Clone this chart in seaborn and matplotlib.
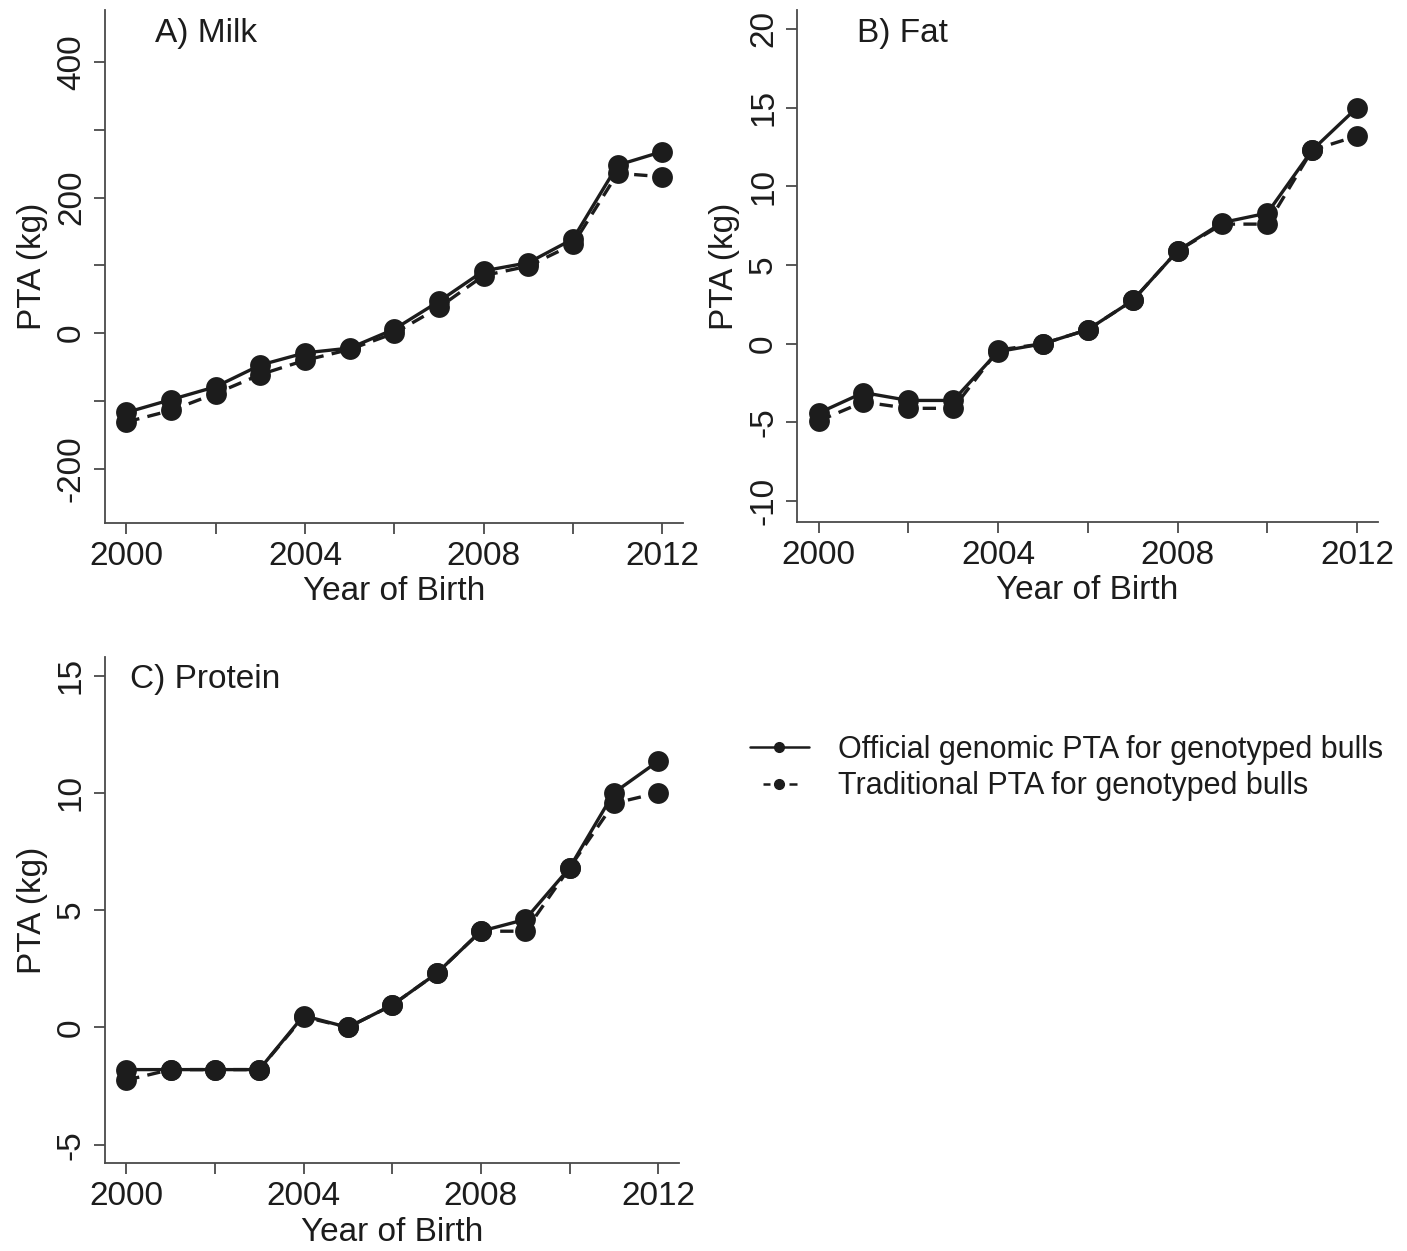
import numpy as np
import pandas as pd
import matplotlib
matplotlib.use("Agg")
import matplotlib.pyplot as plt
from matplotlib.lines import Line2D
from matplotlib.ticker import MultipleLocator
import seaborn as sns

years = list(range(2000, 2013))

milk_genomic = [-117, -98, -79, -47, -29, -22, 6, 47, 92, 104, 139, 248, 268]
milk_traditional = [-131, -114, -89, -61, -40, -24, 0, 38, 85, 99, 131, 236, 231]

fat_genomic = [-4.4, -3.1, -3.6, -3.6, -0.5, 0.0, 0.9, 2.75, 5.9, 7.7, 8.3, 12.3, 15.0]
fat_traditional = [-4.9, -3.7, -4.1, -4.1, -0.4, 0.0, 0.9, 2.75, 5.9, 7.6, 7.6, 12.3, 13.2]

prot_genomic = [-1.8, -1.8, -1.8, -1.8, 0.5, 0.0, 0.95, 2.3, 4.1, 4.6, 6.8, 10.0, 11.35]
prot_traditional = [-2.25, -1.8, -1.8, -1.8, 0.45, 0.0, 0.95, 2.3, 4.1, 4.1, 6.8, 9.55, 10.0]

series_names = ["Official genomic PTA for genotyped bulls",
                "Traditional PTA for genotyped bulls"]
panel_titles = ["A) Milk", "B) Fat", "C) Protein"]

sns.set_theme(style="white")
plt.rcParams["font.family"] = ["Liberation Sans", "DejaVu Sans"]

INK = "#1c1c1c"
AX = "#4a4a4a"

fig = plt.figure(figsize=(14.07, 12.51), dpi=100)

def frame(gen, trad):
    return pd.DataFrame({
        "year": years * 2,
        "value": list(gen) + list(trad),
        "series": [series_names[0]] * len(years) + [series_names[1]] * len(years),
    })

panels = [
    dict(rect=[0.0746, 0.582, 0.411, 0.410], gen=milk_genomic, trad=milk_traditional,
         ylim=(-280, 477), major=200, minor=100, title=panel_titles[0], tx=0.087),
    dict(rect=[0.5665, 0.583, 0.413, 0.409], gen=fat_genomic, trad=fat_traditional,
         ylim=(-11.3, 21.2), major=5, minor=None, title=panel_titles[1], tx=0.103),
    dict(rect=[0.0746, 0.070, 0.408, 0.405], gen=prot_genomic, trad=prot_traditional,
         ylim=(-5.8, 15.8), major=5, minor=None, title=panel_titles[2], tx=0.044),
]

for p in panels:
    ax = fig.add_axes(p["rect"])
    df = frame(p["gen"], p["trad"])
    sns.lineplot(data=df, x="year", y="value", style="series",
                 dashes={series_names[0]: "", series_names[1]: (4, 2.5)},
                 markers={series_names[0]: "o", series_names[1]: "o"},
                 color=INK, linewidth=2.4, markersize=15, markeredgewidth=0,
                 legend=False, ax=ax)
    ax.set_xlim(1999.52, 2012.47)
    ax.set_ylim(*p["ylim"])
    ax.xaxis.set_major_locator(MultipleLocator(4))
    ax.xaxis.set_minor_locator(MultipleLocator(2))
    ax.yaxis.set_major_locator(MultipleLocator(p["major"]))
    if p["minor"]:
        ax.yaxis.set_minor_locator(MultipleLocator(p["minor"]))
    ax.xaxis.set_major_formatter(matplotlib.ticker.FormatStrFormatter("%d"))
    ax.yaxis.set_major_formatter(matplotlib.ticker.FuncFormatter(
        lambda v, pos: f"{v:g}".replace("−", "-")))
    for s in ["top", "right"]:
        ax.spines[s].set_visible(False)
    for s in ["left", "bottom"]:
        ax.spines[s].set_color(AX)
        ax.spines[s].set_linewidth(1.3)
    ax.tick_params(which="both", direction="out", length=8, width=1.3, color=AX,
                   bottom=True, left=True)
    ax.tick_params(axis="x", which="major", labelsize=24, labelcolor=INK, pad=5)
    ax.tick_params(axis="y", which="major", labelsize=24, labelcolor=INK, pad=5)
    for lab in ax.get_yticklabels():
        lab.set_rotation(90)
        lab.set_va("center")
    ax.set_xlabel("Year of Birth", fontsize=24, color=INK, labelpad=3)
    ax.set_ylabel("PTA (kg)", fontsize=24, color=INK, labelpad=6)
    ax.text(p["tx"], 0.955, p["title"], transform=ax.transAxes, fontsize=24,
            color=INK, va="center", ha="left")

lw_leg = 1.8
handles = [
    Line2D([], [], color=INK, linestyle="-", marker="o", markersize=7, linewidth=lw_leg),
    Line2D([], [], color=INK, linestyle=(23.2, (2.8, 7.6, 3.2, 14.8)), marker="o",
           markersize=7, linewidth=lw_leg),
]
fig.legend(handles, series_names, loc="center left", bbox_to_anchor=(0.516, 0.386),
           frameon=False, fontsize=22, handlelength=1.9, handletextpad=0.95,
           labelspacing=0.22, labelcolor=INK, borderpad=0.3)

fig.savefig("out.png", dpi=100)
